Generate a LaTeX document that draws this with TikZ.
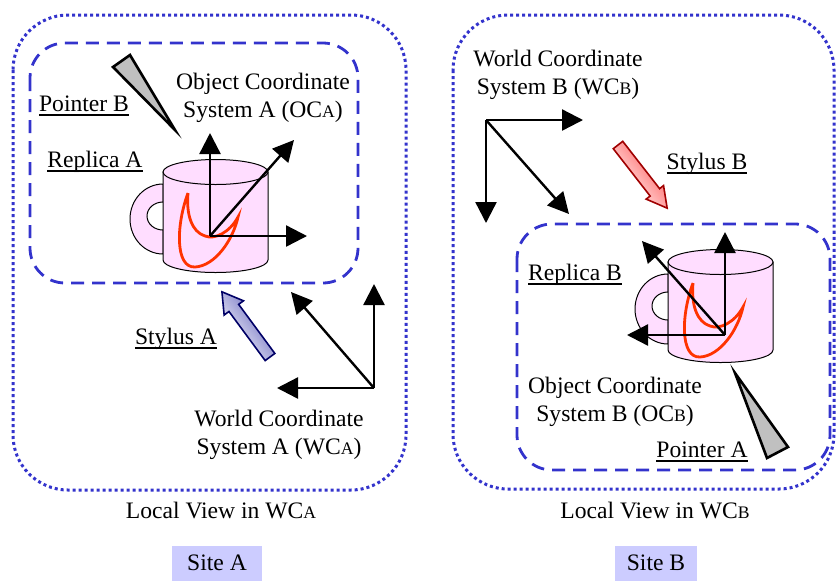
\documentclass[tikz,border=0pt]{standalone}
\usepackage{fontspec}
\setmainfont{Liberation Serif}
\usetikzlibrary{arrows.meta,positioning}
\definecolor{FrameBlue}{HTML}{3333CC}
\definecolor{MugPink}{HTML}{FFDDFF}
\definecolor{SwooshRed}{HTML}{FF3300}
\definecolor{SiteLilac}{HTML}{CCCCFF}
\definecolor{PointerGray}{HTML}{C0C0C0}
\definecolor{StylusNavy}{HTML}{000066}
\definecolor{StylusBlue}{HTML}{5A5AB8}
\definecolor{StylusRed}{HTML}{FF5050}
\definecolor{StylusDark}{HTML}{A00000}
\newcommand{\subcap}[1]{{\fontsize{8.8}{10}\selectfont #1}}
% underline that sits just under the baseline
\newcommand{\tagline}[1]{\setbox0\hbox{#1}\rlap{\vrule width\wd0 height -1.3pt depth 2.3pt}\box0}

\tikzset{mug/.pic={
  \draw[line width=0.5pt, fill=MugPink] (-52.5,12) arc[start angle=270, end angle=90, x radius=33, y radius=35] -- (-52.5,58) arc[start angle=90, end angle=270, x radius=16, y radius=14] -- cycle;
  \draw[line width=0.5pt, fill=MugPink] (-52.5,0) -- (-52.5,88) arc[start angle=180, end angle=0, x radius=52.5, y radius=12.5] -- (52.5,0) -- cycle;
  \draw[line width=0.5pt, fill=MugPink] (0,0) ellipse [x radius=52.5, y radius=12.5];
  \draw[SwooshRed, line width=1.4pt] (-27.5,21) .. controls (-39.5,53) and (-40.5,96) .. (-20.5,95) .. controls (-0.5,94) and (17.5,68) .. (22.5,45) .. controls (14.5,60) and (-0.5,68) .. (-10.5,64) .. controls (-23.5,60) and (-29.5,43) .. (-27.5,21);
}}

\begin{document}
\begin{tikzpicture}[x=0.5pt, y=-0.5pt, every node/.style={font=\fontsize{11.8}{14}\selectfont, inner sep=1pt}, sitebox/.style={rounded corners=27.5pt, draw=FrameBlue, line width=1.5pt, dash pattern=on 1.5pt off 1.5pt}, replicabox/.style={rounded corners=17.5pt, draw=FrameBlue, line width=1.4pt, dash pattern=on 6.5pt off 4pt}, axis/.style={-{Triangle[length=10.5pt,width=10.5pt]}, line width=1.2pt}, pointer/.style={draw, fill=PointerGray, line width=1.3pt, line join=miter}, label/.style={align=center}, tag/.style={}, sitetag/.style={fill=SiteLilac, minimum height=17.5pt, inner sep=0pt}]
\useasboundingbox (0,0) rectangle (839,580);
\draw[sitebox] (13,15) rectangle (406,490);
\draw[sitebox] (453,15) rectangle (834,489);
\draw[replicabox] (30,43) rectangle (358,283);
\draw[replicabox] (517,224) rectangle (830,470);

\pic (mugA) at (215.5,172) {mug};
\pic (mugB) at (720.5,262) {mug};

\draw[pointer] (113,67) -- (130,55) -- (175,130) -- cycle;
\draw[pointer] (735,373) -- (767,458) -- (788,447) -- cycle;

\begin{scope}[shift={(270,357)}, rotate=126.4]
\shade[draw=StylusNavy, line width=0.8pt, top color=StylusBlue, bottom color=white, shading angle=-54] (0,-6) -- (61,-6) -- (61,-12) -- (81,0) -- (61,12) -- (61,6) -- (0,6) -- cycle;
\end{scope}
\begin{scope}[shift={(618,145)}, rotate=-52.1]
\shade[draw=StylusDark, line width=0.8pt, top color=StylusRed, bottom color=white, shading angle=-52] (0,-6) -- (60,-6) -- (60,-11) -- (80,0) -- (60,11) -- (60,6) -- (0,6) -- cycle;
\end{scope}

\coordinate (ocA) at (210,236); \coordinate (ocAup) at (210,133); \coordinate (ocAright) at (307,236); \coordinate (ocAdiag) at (294,140);
\coordinate (wcA) at (374,388); \coordinate (wcAup) at (374,284); \coordinate (wcAleft) at (277,388); \coordinate (wcAdiag) at (291,292);
\coordinate (wcB) at (486,120); \coordinate (wcBright) at (583,120); \coordinate (wcBdown) at (486,223); \coordinate (wcBdiag) at (569,214);
\coordinate (ocB) at (725,335); \coordinate (ocBup) at (725,232); \coordinate (ocBleft) at (627,335); \coordinate (ocBdiag) at (642,241);
\draw[axis] (ocA)--(ocAup); \draw[axis] (ocA)--(ocAright); \draw[axis] (ocA)--(ocAdiag);
\draw[axis] (wcA)--(wcAup); \draw[axis] (wcA)--(wcAleft); \draw[axis] (wcA)--(wcAdiag);
\draw[axis] (wcB)--(wcBright); \draw[axis] (wcB)--(wcBdown); \draw[axis] (wcB)--(wcBdiag);
\draw[axis] (ocB)--(ocBup); \draw[axis] (ocB)--(ocBleft); \draw[axis] (ocB)--(ocBdiag);

\node[label] (ocAtext) at (263,98) {Object Coordinate\\System A (OC\subcap{A})};
\node[label] (wcAtext) at (279,435) {World Coordinate\\System A (WC\subcap{A})};
\node[label] (wcBtext) at (558,75) {World Coordinate\\System B (WC\subcap{B})};
\node[label] (ocBtext) at (615,402) {Object Coordinate\\System B (OC\subcap{B})};
\node[tag] (ptrB) at (84,106) {\tagline{Pointer B}};
\node[tag] (repA) at (95,162) {\tagline{Replica A}};
\node[tag] (styA) at (176,339) {\tagline{Stylus A}};
\node[tag] (styB) at (707,164) {\tagline{Stylus B}};
\node[tag] (repB) at (575,275) {\tagline{Replica B}};
\node[tag] (ptrA) at (702,452) {\tagline{Pointer A}};
\node (viewA) at (221,510) {Local View in WC\subcap{A}};
\node (viewB) at (655,510) {Local View in WC\subcap{B}};
\node[sitetag, minimum width=45pt] (siteA) at (217,563) {Site A};
\node[sitetag, minimum width=41pt] (siteB) at (656,563) {Site B};
\end{tikzpicture}
\end{document}
